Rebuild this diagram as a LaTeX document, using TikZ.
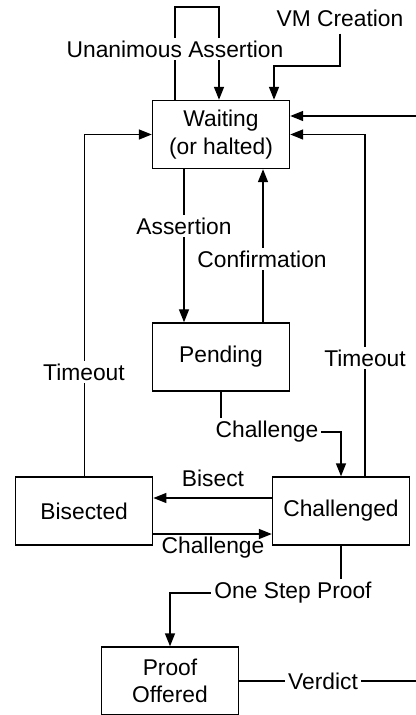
\documentclass[tikz,border=0pt]{standalone}
\usepackage{fontspec}
\setmainfont{Liberation Sans}
\usetikzlibrary{arrows.meta}
\begin{document}
\begin{tikzpicture}[x=0.5pt, y=-0.5pt, line width=0.7pt, >={Triangle[length=6.5pt,width=5pt]},
        font=\fontsize{11.4}{13.8}\selectfont,
        state/.style={draw, minimum width=68.5pt, minimum height=34pt, align=center, inner sep=0pt},
        lbl/.style={fill=white, inner sep=1.5pt}]
        \useasboundingbox (0,0) rectangle (416,715);
        \clip (0,0) rectangle (416,715);

        \node[state] (wait) at (221,134.5) {Waiting\\(or halted)};
        \node[state] (pend) at (221,357) {Pending};
        \node[state] (bis) at (84.2,511) {Bisected};
        \node[state] (chal) at (341,511) {Challenged};
        \node[state] (proof) at (170,681) {Proof\\Offered};
        \node (vm) at (340,18) {VM Creation};

        \coordinate (loopL) at (175,7);
        \coordinate (loopR) at (219,7);
        \coordinate (vmturn) at (274,66);
        \coordinate (tr) at (365,0);
        \coordinate (asx) at (184,0);
        \coordinate (cfx) at (263,0);
        \coordinate (chturn) at (341,432);
        \coordinate (bisy) at (0,498);
        \coordinate (chy) at (0,534);
        \coordinate (osturn) at (341,593);
        \coordinate (vdturn) at (440,681);
        \coordinate (vdtop) at (440,116);

        \draw[->] (loopL |- wait.north) -- (loopL) -- (loopR) -- (loopR |- wait.north);
        \draw[->] (vm) |- (vmturn) -- (vmturn |- wait.north);
        \draw[->] (proof.east) -- (vdturn) -- (vdtop) -- (vdtop -| wait.east);
        \draw[->] (bis.north) |- (wait.west);
        \draw[->] (tr |- chal.north) |- (wait.east);
        \draw[->] (asx |- wait.south) -- (asx |- pend.north);
        \draw[->] (cfx |- pend.north) -- (cfx |- wait.south);
        \draw[->] (pend.south) |- (chturn) -- (chal.north);
        \draw[->] (bisy -| chal.west) -- (bisy -| bis.east);
        \draw[->] (chy -| bis.east) -- (chy -| chal.west);
        \draw[->] (chal.south) -- (osturn) -| (proof.north);

        \node[lbl] (l1) at (175,49) {Unanimous Assertion};
        \node[lbl] (l2) at (323,681) {Verdict};
        \node[lbl] (l3) at (84,372) {Timeout};
        \node[lbl] (l4) at (365,358) {Timeout};
        \node[lbl] (l5) at (184,226) {Assertion};
        \node[lbl] (l6) at (262,259) {Confirmation};
        \node[lbl] (l7) at (267,432) {Challenge};
        \node (l8) at (213,478) {Bisect};
        \node (l9) at (213,548) {Challenge};
        \node[lbl] (l10) at (293,593) {One Step Proof};
      \end{tikzpicture}
\end{document}
